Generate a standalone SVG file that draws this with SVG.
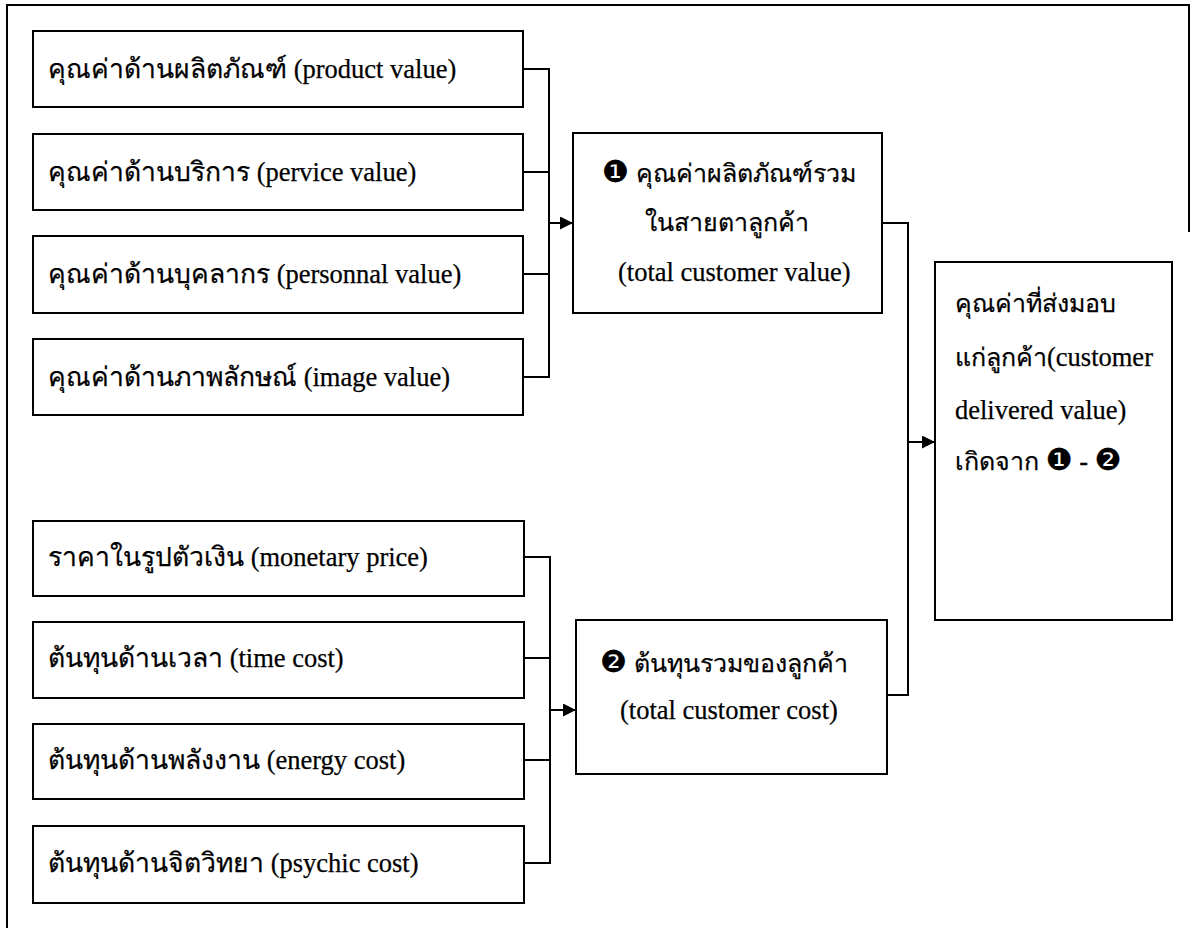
<svg xmlns="http://www.w3.org/2000/svg" width="1192" height="928" viewBox="0 0 1192 928">
  <style>
    .box { fill: #ffffff; stroke: #000000; stroke-width: 2; }
    .frame { fill: none; stroke: #000000; stroke-width: 2; }
    .wire { fill: none; stroke: #000000; stroke-width: 2; }
    .lbl { font-family: "Liberation Serif", "DejaVu Serif", serif; font-size: 26.5px; fill: #000000; stroke: #000000; stroke-width: 0.25; }
    .th { font-size: 25px; }
    .num { font-family: "DejaVu Sans", sans-serif; font-size: 30px; }
  </style>
  <defs>
    <marker id="arrow" viewBox="0 0 10 10" refX="10" refY="5" markerWidth="7" markerHeight="6.5" markerUnits="strokeWidth" orient="auto">
      <path d="M0,0 L10,5 L0,10 Z" fill="#000000"/>
    </marker>
  </defs>

  <rect width="1192" height="928" fill="#ffffff"/>

  <!-- page frame: left, top and upper right edges -->
  <path class="frame" d="M7,928 V5 H1189 V232"/>

  <!-- value items -->
  <g id="product-value">
    <rect class="box" x="33" y="31" width="490" height="76"/>
    <text class="lbl" x="48" y="78">คุณค่าด้านผลิตภัณฑ์ (product value)</text>
  </g>
  <g id="service-value">
    <rect class="box" x="33" y="134" width="490" height="76"/>
    <text class="lbl" x="48" y="181">คุณค่าด้านบริการ (pervice value)</text>
  </g>
  <g id="personnel-value">
    <rect class="box" x="33" y="236" width="490" height="77"/>
    <text class="lbl" x="48" y="283">คุณค่าด้านบุคลากร (personnal value)</text>
  </g>
  <g id="image-value">
    <rect class="box" x="33" y="339" width="490" height="76"/>
    <text class="lbl" x="48" y="386">คุณค่าด้านภาพลักษณ์ (image value)</text>
  </g>

  <!-- cost items -->
  <g id="monetary-price">
    <rect class="box" x="33" y="521" width="491" height="75"/>
    <text class="lbl" x="48" y="566">ราคาในรูปตัวเงิน (monetary price)</text>
  </g>
  <g id="time-cost">
    <rect class="box" x="33" y="622" width="491" height="76"/>
    <text class="lbl" x="48" y="667">ต้นทุนด้านเวลา (time cost)</text>
  </g>
  <g id="energy-cost">
    <rect class="box" x="33" y="724" width="491" height="75"/>
    <text class="lbl" x="48" y="769">ต้นทุนด้านพลังงาน (energy cost)</text>
  </g>
  <g id="psychic-cost">
    <rect class="box" x="33" y="826" width="491" height="77"/>
    <text class="lbl" x="48" y="872">ต้นทุนด้านจิตวิทยา (psychic cost)</text>
  </g>

  <!-- totals -->
  <g id="total-customer-value">
    <rect class="box" x="573" y="133" width="309" height="180"/>
    <text class="lbl" x="602" y="182"><tspan class="num">❶</tspan> <tspan class="th">คุณค่าผลิตภัณฑ์รวม</tspan></text>
    <text class="lbl th" x="645" y="231">ในสายตาลูกค้า</text>
    <text class="lbl" x="618" y="281">(total customer value)</text>
  </g>
  <g id="total-customer-cost">
    <rect class="box" x="576" y="620" width="311" height="154"/>
    <text class="lbl" x="600" y="672"><tspan class="num">❷</tspan> <tspan class="th">ต้นทุนรวมของลูกค้า</tspan></text>
    <text class="lbl" x="620" y="719">(total customer cost)</text>
  </g>

  <!-- result -->
  <g id="customer-delivered-value">
    <rect class="box" x="935" y="262" width="237" height="358"/>
    <text class="lbl th" x="955" y="312">คุณค่าที่ส่งมอบ</text>
    <text class="lbl" x="955" y="366"><tspan class="th">แก่ลูกค้า</tspan>(customer</text>
    <text class="lbl" x="955" y="419">delivered value)</text>
    <text class="lbl" x="955" y="470"><tspan class="th">เกิดจาก</tspan> <tspan class="num">❶</tspan> - <tspan class="num">❷</tspan></text>
  </g>

  <!-- connectors -->
  <g id="connectors">
    <path class="wire" d="M523,69 H549 M523,172 H549 M523,274 H549 M523,377 H549 M549,68 V378"/>
    <path class="wire" d="M549,223 H573" marker-end="url(#arrow)"/>
    <path class="wire" d="M524,557 H550 M524,658 H550 M524,760 H550 M524,863 H550 M550,556 V864"/>
    <path class="wire" d="M550,710 H576" marker-end="url(#arrow)"/>
    <path class="wire" d="M882,223 H908 M887,695 H908 M908,222 V696"/>
    <path class="wire" d="M908,442 H935" marker-end="url(#arrow)"/>
  </g>
</svg>
